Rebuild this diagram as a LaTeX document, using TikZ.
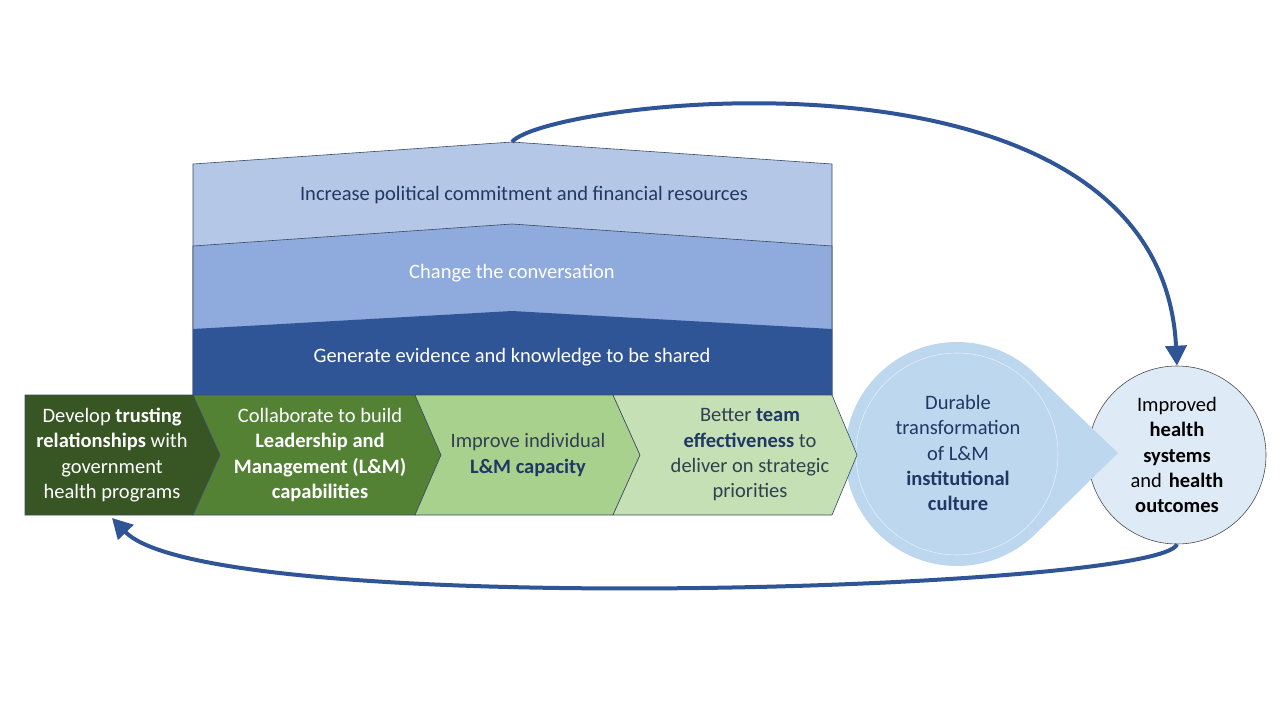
\documentclass[tikz,border=0pt]{standalone}
\usepackage{fontspec}
\setmainfont{Carlito}
\usetikzlibrary{arrows.meta,calc}
\definecolor{layA}{HTML}{B4C7E7}
\definecolor{layB}{HTML}{8FAADC}
\definecolor{layC}{HTML}{2F5597}
\definecolor{chA}{HTML}{375623}
\definecolor{chB}{HTML}{548235}
\definecolor{chC}{HTML}{A9D18E}
\definecolor{chD}{HTML}{C5E0B4}
\definecolor{tear}{HTML}{BDD7EE}
\definecolor{circ}{HTML}{DEEBF7}
\definecolor{navy}{HTML}{203864}
\definecolor{slate}{HTML}{333F50}
\definecolor{edge}{HTML}{3B4A63}
\begin{document}
\begin{tikzpicture}[x=1pt,y=-1pt,
  txt/.style={font=\fontsize{20.5}{25.3}\selectfont, align=center, inner sep=0pt},
  layer/.style={draw=edge, line width=0.6pt},
  chev/.style={draw=edge, line width=0.6pt},
  flow/.style={draw=layC, line width=4pt, -{Triangle[length=20pt,width=21pt]}}]
\useasboundingbox (0,0) rectangle (1280,720);
\fill[white] (0,0) rectangle (1280,720);
% stacked layers
\path[layer, fill=layA] (193,164) -- (512,142) -- (832,164) -- (832,395) -- (193,395) -- cycle;
\path[layer, fill=layB] (193,246) -- (512,224) -- (832,246) -- (832,395) -- (193,395) -- cycle;
\path[fill=layC] (193,329) -- (512,311) -- (832,329) -- (832,395) -- (193,395) -- cycle;
\coordinate (peak) at (512,142);
\node[txt, text=navy] (t1) at (524,195) {Increase political commitment and financial resources};
\node[txt, text=white] (t2) at (512,273) {Change the conversation};
\node[txt, text=white] (t3) at (512,357) {Generate evidence and knowledge to be shared};
% outcome circle
\node[circle, fill=circ, draw=black!70, line width=0.6pt, minimum size=178pt, inner sep=0pt,
      txt, text width=110pt, text=black] (out) at (1177,455)
  {Improved\\\textbf{health}\\\textbf{systems}\\and \textbf{health}\\\textbf{outcomes}};
% teardrop
\fill[tear] (1118,453) -- ($(957,454)+(45.9:112)$) arc[start angle=45.9, end angle=314.1, radius=112] -- cycle;
\draw[white, opacity=0.6, line width=0.6pt] (957,454) circle[radius=101];
\node[txt, text=navy] (cult) at (958,453)
  {Durable\\transformation\\of L\&M\\\textbf{institutional}\\\textbf{culture}};
% chevrons
\path[chev, fill=chA] (25,395) -- (193,395) -- (220,455) -- (193,515) -- (25,515) -- cycle;
\path[chev, fill=chB] (193,395) -- (415,395) -- (441,455) -- (415,515) -- (193,515) -- (220,455) -- cycle;
\path[chev, fill=chC] (415,395) -- (613,395) -- (640,455) -- (613,515) -- (415,515) -- (441,455) -- cycle;
\path[chev, fill=chD] (613,395) -- (832,395) -- (857,455) -- (832,515) -- (613,515) -- (640,455) -- cycle;
\node[txt, text=white] (c1) at (112,455)
  {Develop \textbf{trusting}\\\textbf{relationships} with\\government\\health programs};
\node[txt, text=white] (c2) at (320,455)
  {Collaborate to build\\\textbf{Leadership and}\\\textbf{Management (L\&M)}\\\textbf{capabilities}};
\node[txt, text=slate] (c3) at (528,455)
  {Improve individual\\\textcolor{navy}{\textbf{L\&M capacity}}};
\node[txt, text=slate] (c4) at (750,455)
  {Better \textcolor{navy}{\textbf{team}}\\\textcolor{navy}{\textbf{effectiveness}} to\\deliver on strategic\\priorities};
\coordinate (ret) at (112,518);
% feedback arrows
\draw[flow] (peak) .. controls (545,100) and (1160,25) .. (out.north);
\draw[flow] (out.south) .. controls (1160,590) and (210,620) .. (ret);
\end{tikzpicture}
\end{document}
